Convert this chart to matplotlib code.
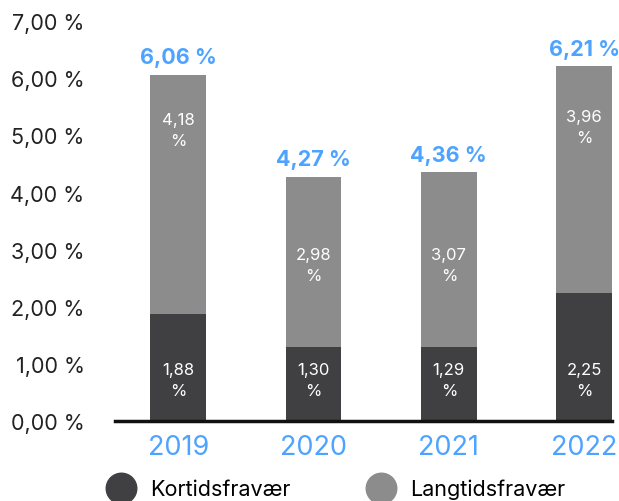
import matplotlib
matplotlib.use("Agg")
import matplotlib.pyplot as plt
from matplotlib.lines import Line2D

years = ["2019", "2020", "2021", "2022"]
kortid = [1.88, 1.30, 1.29, 2.25]
langtid = [4.18, 2.98, 3.07, 3.96]
totals = [6.06, 4.27, 4.36, 6.21]
yticks = [0, 1, 2, 3, 4, 5, 6, 7]
series_names = ["Kortidsfravær", "Langtidsfravær"]
gray_label_frac = [0.77, 0.48, 0.47, 0.73]

DARK = "#404042"
GRAY = "#8c8c8c"
BLUE = "#4da3ff"

plt.rcParams["font.family"] = ["Inter", "DejaVu Sans"]

def fmt(v):
    return f"{v:.2f}".replace(".", ",") + " %"

fig = plt.figure(figsize=(6.19, 5.02), dpi=100)
ax = fig.add_axes([0.186, 0.159, 0.803, 0.797])

x = list(range(len(years)))
w = 0.41
ax.bar(x, kortid, width=w, color=DARK)
ax.bar(x, langtid, width=w, bottom=kortid, color=GRAY)

for i in x:
    ax.text(i, 0.72, fmt(kortid[i]).replace(" %", "\n%"),
            ha="center", va="center", color="white", fontsize=12, linespacing=1.5)
    ax.text(i, kortid[i] + langtid[i] * gray_label_frac[i], fmt(langtid[i]).replace(" %", "\n%"),
            ha="center", va="center", color="white", fontsize=12, linespacing=1.5)
    ax.text(i, kortid[i] + langtid[i] + 0.13, fmt(totals[i]), ha="center", va="bottom",
            color=BLUE, fontsize=15.5, fontweight="bold")

ax.set_xlim(-0.466, 3.207)
ax.set_ylim(0, 7)
ax.set_yticks(yticks)
ax.set_yticklabels([fmt(v) for v in yticks], fontsize=15.5, color="#222222")
ax.set_xticks(x)
ax.set_xticklabels(years, fontsize=19.5, color=BLUE)
ax.tick_params(axis="y", length=0, pad=22)
ax.tick_params(axis="x", length=0, pad=9)
for s in ["top", "right", "left"]:
    ax.spines[s].set_visible(False)
ax.spines["bottom"].set_linewidth(2.5)
ax.spines["bottom"].set_color("#111111")

handles = [Line2D([], [], marker="o", linestyle="none", markersize=22, markerfacecolor=c,
                  markeredgecolor=c) for c in (DARK, GRAY)]
fig.legend(handles, series_names, loc="center left", bbox_to_anchor=(0.129, 0.024),
           ncol=2, frameon=False, fontsize=15.5, columnspacing=3.2, handletextpad=0.35)

fig.savefig("out.png", dpi=100)
